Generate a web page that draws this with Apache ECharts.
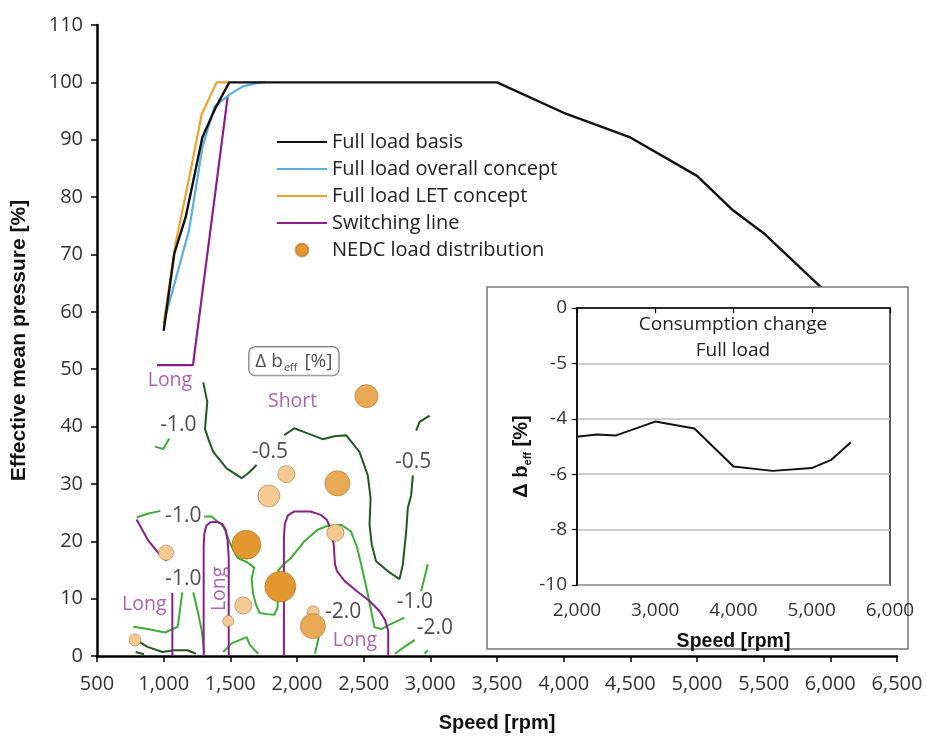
<!DOCTYPE html>
<html>
<head>
<meta charset="utf-8">
<script src="https://cdn.jsdelivr.net/npm/echarts@6/dist/echarts.min.js"></script>
<style>
  html, body { margin: 0; padding: 0; background: #fff; }
  #chart { width: 927px; height: 738px; }
</style>
</head>
<body>
<div id="chart"></div>
<script>
// full load curves [speed rpm, effective mean pressure %]
const fullLoadBasis = [[1000, 56.7], [1080, 70.2], [1165, 76.5], [1290, 90.4], [1390, 95.6], [1492, 100], [3500, 100],
  [4000, 94.7], [4500, 90.4], [5000, 83.7], [5270, 77.7], [5500, 73.7], [5925, 64.4], [6200, 58]]
const fullLoadOverall = [[1000, 58], [1190, 74.2], [1290, 88.6], [1382, 95.8], [1497, 97.9], [1595, 99.3], [1725, 100], [1760, 100]]
const fullLoadLet = [[1000, 58], [1090, 72], [1197, 84], [1285, 94.4], [1397, 100], [1497, 100]]
const switchingLine = [[950, 50.7], [1220, 50.7], [1480, 97.5]]

// NEDC load points: speed, load, time share (bubble area)
const nedcSpeed = [785, 1018, 1484, 1597, 1620, 1875, 1789, 1920, 2303, 2521, 2288, 2121, 2119]
const nedcLoad = [2.8, 18, 6.1, 8.8, 19.4, 12.1, 27.9, 31.7, 30.1, 45.3, 21.5, 7.7, 5.2]
const nedcShare = [1.2, 1.9, 1.0, 2.4, 7.0, 7.9, 4.0, 2.4, 5.2, 4.4, 2.4, 1.2, 5.2]

// consumption change contours (-0.5 dark green)
const dgUpperA = [[1297, 47.7], [1327, 44.3], [1310, 39.6], [1340, 37.5], [1372, 35.6], [1472, 32.7], [1585, 31], [1640, 32], [1697, 33.3]]
const dgUpperB = [[1905, 38.5], [1980, 39.7], [2080, 38.8], [2193, 37.8], [2280, 38.3], [2368, 38.5], [2468, 35.6], [2531, 31.5],
  [2552, 27.5], [2544, 22.9], [2560, 19.5], [2593, 16.5], [2680, 14.8], [2769, 13.4], [2794, 16], [2820, 22], [2831, 25.8],
  [2856, 28], [2869, 31.5]]
const dgUpperC = [[2894, 39.3], [2919, 40.8], [2994, 41.9]]
const dgLower = [[803, 2.7], [878, 1.6], [991, 0.7], [1078, 1], [1178, 1], [1241, 0.4]]
const dgLowerTick = [[790, 0.7], [853, 0.3]]

// -1.0 / -2.0 light green
const lgUpperTick = [[935, 36.5], [997, 36.1], [1042, 37.9]]
const lgMidLeft = [[800, 24.2], [880, 24.8], [975, 25.3]]
const lgMidRight = [[1304, 24.3], [1360, 24.3], [1404, 23.4], [1440, 22.8], [1466, 21.7], [1500, 19.5], [1554, 17.1], [1629, 16.3],
  [1679, 15.4], [1660, 13.5], [1670, 11], [1692, 9], [1720, 7.5], [1779, 7.3], [1830, 7.2], [1855, 8.5], [1859, 14.9], [1900, 16],
  [1955, 17.1], [2055, 20], [2155, 22], [2218, 22.6], [2330, 22.9], [2405, 21.7], [2450, 19], [2481, 16], [2531, 10.8],
  [2581, 5], [2631, 4.7], [2706, 5.6], [2806, 6.7]]
const lgRightTail = [[2931, 11.3], [2981, 16]]
const lgLowLeft = [[772, 5.1], [880, 4.7], [1010, 4.1], [1105, 5.1], [1122, 8], [1140, 11.1]]
const lgLowMid = [[1222, 11.1], [1259, 7.4], [1285, 4.5], [1305, 0.4]]
const lgBottomA = [[1447, 0.7], [1510, 2.2], [1622, 3.3], [1647, 1.9], [1709, 0.4]]
const lgBottomB = [[2134, 0.4], [2164, 3.3]]
const lgBottomC = [[2734, 0.4], [2800, 1.5], [2884, 2.8]]
const lgBottomD = [[2956, 0.4], [2981, 1.0]]

// switching regions (purple)
const purpleLeft = [[797, 23.8], [885, 20.1], [960, 18], [1022, 16.6]]
const purpleBar = [[1065, 11], [1065, 0]]
const purpleArch1 = [[1300, 0], [1300, 19], [1305, 21.3], [1320, 22.7], [1350, 23.3], [1400, 23.4], [1440, 23], [1465, 22],
  [1480, 20], [1488, 17], [1488, 0]]
const purpleArch2 = [[1902, 0], [1902, 20.5], [1908, 23], [1932, 24.5], [1980, 25.2], [2100, 25.2], [2180, 24.6], [2225, 23.7],
  [2255, 22], [2275, 19.5], [2285, 16], [2300, 14.8], [2356, 13.1], [2450, 11.3], [2544, 9.6], [2620, 7.8], [2660, 6.3],
  [2684, 4.4], [2684, 0]]

// contour and region labels
const contourLabelText = ['-1.0', '-0.5', '-0.5', '-1.0', '-1.0', '-2.0', '-1.0', '-2.0']
const contourLabelSpeed = [1110, 1797, 2871, 1147, 1147, 2346, 2884, 3034]
const contourLabelLoad = [40.2, 35.6, 33.9, 24.4, 13.4, 7.7, 9.4, 4.8]
const regionLabelText = ['Long', 'Short', 'Long', 'Long', 'Long']
const regionLabelSpeed = [1047, 1967, 855, 1415, 2434]
const regionLabelLoad = [48, 44.3, 9.0, 11.7, 2.8]

// inset: consumption change at full load
const insetSpeed = [2000, 2250, 2500, 3000, 3500, 4000, 4500, 5000, 5250, 5500]
const insetChange = [-4.65, -4.57, -4.6, -4.1, -4.35, -5.72, -5.88, -5.78, -5.48, -4.85]
const insetTickValues = [0, -2, -4, -6, -8, -10]
const insetTickLabels = ['0', '-5', '-4', '-6', '-8', '-10']

const FONT = 'Open Sans'
const BOLD = 'Liberation Sans'

function thousands (v) {
  return String(v).replace(/\B(?=(\d{3})+(?!\d))/g, ',')
}

function shareColor (s) {
  if (s < 4.2) return '#f5c993'
  if (s < 6) return '#eaa955'
  return '#e3982f'
}

function contour (points, color) {
  return {
    type: 'line',
    data: points,
    symbol: 'none',
    silent: true,
    lineStyle: { color: color, width: 2 },
    z: 3
  }
}

const DARK = '#1f5a1f'
const LIGHT = '#3cae36'
const PURPLE = '#8c1d8c'

let series = []
;[dgUpperA, dgUpperB, dgUpperC, dgLower, dgLowerTick].forEach(function (p) { series.push(contour(p, DARK)) })
;[lgUpperTick, lgMidLeft, lgMidRight, lgRightTail, lgLowLeft, lgLowMid, lgBottomA, lgBottomB, lgBottomC, lgBottomD]
  .forEach(function (p) { series.push(contour(p, LIGHT)) })
;[purpleLeft, purpleBar, purpleArch1, purpleArch2].forEach(function (p) { series.push(contour(p, PURPLE)) })

// full load lines: itemStyle opacity 0 keeps the legend icon a plain line
function fullLoad (name, data, color, width, z) {
  return { name: name, type: 'line', data: data, symbol: 'none', lineStyle: { color: color, width: width }, itemStyle: { color: color, opacity: 0 }, z: z }
}

series.push(
  fullLoad('Switching line', switchingLine, PURPLE, 2.2, 4),
  fullLoad('Full load overall concept', fullLoadOverall, '#5aaee2', 2.2, 4),
  fullLoad('Full load LET concept', fullLoadLet, '#f0a02c', 2.2, 4),
  fullLoad('Full load basis', fullLoadBasis, '#111', 2.4, 5),
  {
    name: 'NEDC load distribution',
    type: 'scatter',
    data: nedcSpeed.map(function (s, i) {
      return {
        value: [s, nedcLoad[i], nedcShare[i]],
        symbolSize: 11 * Math.sqrt(nedcShare[i]),
        itemStyle: { color: shareColor(nedcShare[i]) }
      }
    }),
    itemStyle: { color: '#e8962e', opacity: 1, borderColor: 'rgba(150,100,40,0.5)', borderWidth: 1 },
    z: 6
  },
  {
    type: 'scatter',
    silent: true,
    symbolSize: 1,
    itemStyle: { color: 'transparent' },
    label: { show: true, position: 'inside', fontFamily: FONT, fontSize: 21, color: '#222' },
    data: contourLabelText.map(function (t, i) {
      return { value: [contourLabelSpeed[i], contourLabelLoad[i]], label: { formatter: t } }
    }),
    z: 7
  },
  {
    type: 'scatter',
    silent: true,
    symbolSize: 1,
    itemStyle: { color: 'transparent' },
    label: { show: true, position: 'inside', fontFamily: FONT, fontSize: 19.5, color: '#9a3a9a' },
    data: regionLabelText.map(function (t, i) {
      // the Long label between the two switching legs is written vertically
      return { value: [regionLabelSpeed[i], regionLabelLoad[i]], label: { formatter: t, rotate: i === 3 ? 90 : 0 } }
    }),
    z: 7
  },
  {
    type: 'scatter',
    silent: true,
    symbolSize: 1,
    itemStyle: { color: 'transparent' },
    data: [[1977, 51.4]],
    label: {
      show: true,
      position: 'inside',
      formatter: '{a|Δ b}{s|eff}{a| [%]}',
      backgroundColor: '#fff',
      borderColor: '#666',
      borderWidth: 1.2,
      borderRadius: 6,
      padding: [2, 6, 2, 6],
      rich: {
        a: { fontFamily: FONT, fontSize: 19, color: '#222', lineHeight: 24 },
        s: { fontFamily: FONT, fontSize: 11, color: '#222', lineHeight: 24, verticalAlign: 'bottom', padding: [0, 2, 0, 1] }
      }
    },
    z: 7
  },
  {
    type: 'line',
    xAxisIndex: 1,
    yAxisIndex: 1,
    data: insetSpeed.map(function (s, i) { return [s, insetChange[i]] }),
    symbol: 'none',
    lineStyle: { color: '#111', width: 2 },
    z: 65
  }
)

const option = {
  animation: false,
  textStyle: { fontFamily: FONT },
  legend: {
    left: 271,
    top: 126,
    orient: 'vertical',
    itemWidth: 50,
    itemHeight: 13,
    itemGap: 5,
    selectedMode: false,
    textStyle: { fontFamily: FONT, fontSize: 20, color: '#222', lineHeight: 22 },
    data: ['Full load basis', 'Full load overall concept', 'Full load LET concept', 'Switching line',
      { name: 'NEDC load distribution', icon: 'circle' }]
  },
  grid: [
    { left: 97, width: 800, top: 25, height: 634 },
    { left: 577, top: 308, width: 313, height: 277, show: true, borderColor: '#222', borderWidth: 1.5, z: 60 }
  ],
  xAxis: [
    {
      type: 'value', min: 500, max: 6500, interval: 500,
      name: 'Speed [rpm]', nameLocation: 'middle', nameGap: 57,
      nameTextStyle: { fontFamily: BOLD, fontWeight: 'bold', fontSize: 20, color: '#111' },
      axisLine: { lineStyle: { color: '#000', width: 2.5 } },
      axisTick: { length: 6, lineStyle: { color: '#000', width: 1.5 } },
      axisLabel: { fontSize: 20, color: '#333', margin: 18, formatter: thousands },
      splitLine: { show: false }
    },
    {
      gridIndex: 1, type: 'value', min: 2000, max: 6000, interval: 1000, z: 60,
      name: 'Speed [rpm]', nameLocation: 'middle', nameGap: 47,
      nameTextStyle: { fontFamily: BOLD, fontWeight: 'bold', fontSize: 19.5, color: '#111' },
      axisLine: { lineStyle: { color: '#000', width: 1.5 } },
      axisTick: { length: 5, lineStyle: { color: '#000', width: 1.2 } },
      axisLabel: { fontSize: 19, color: '#333', margin: 16, formatter: thousands },
      splitLine: { show: false }
    }
  ],
  yAxis: [
    {
      type: 'value', min: 0, max: 110, interval: 10,
      name: 'Effective mean pressure [%]', nameLocation: 'middle', nameGap: 67,
      nameTextStyle: { fontFamily: BOLD, fontWeight: 'bold', fontSize: 21, color: '#111' },
      axisLine: { show: true, lineStyle: { color: '#000', width: 2.5 } },
      axisTick: { show: true, length: 6, lineStyle: { color: '#000', width: 1.5 } },
      axisLabel: { fontSize: 20, color: '#333', margin: 14 },
      splitLine: { show: false }
    },
    {
      gridIndex: 1, type: 'value', min: -10, max: 0, interval: 2, z: 60,
      name: '{a|Δ b}{s|eff}{a| [%]}', nameLocation: 'middle', nameGap: 44,
      nameTextStyle: {
        padding: [0, 20, 0, 0],
        rich: {
          a: { fontFamily: BOLD, fontWeight: 'bold', fontSize: 20, color: '#111', lineHeight: 24 },
          s: { fontFamily: BOLD, fontWeight: 'bold', fontSize: 11, color: '#111', lineHeight: 24, verticalAlign: 'bottom' }
        }
      },
      axisLine: { show: true, lineStyle: { color: '#000', width: 1.5 } },
      axisTick: { show: true, length: 5, lineStyle: { color: '#000', width: 1.2 } },
      axisLabel: {
        fontSize: 19, color: '#333', margin: 10,
        formatter: function (v) {
          const k = insetTickValues.indexOf(v)
          return k >= 0 ? insetTickLabels[k] : ''
        }
      },
      splitLine: { show: true, lineStyle: { color: '#bbb', width: 1.5 } }
    }
  ],
  graphic: {
    elements: [
      {
        type: 'rect', z: 50, silent: true,
        shape: { x: 487, y: 287, width: 421, height: 362 },
        style: { fill: '#fff', stroke: '#777', lineWidth: 1.5 }
      },
      {
        type: 'text', z: 70, silent: true, x: 733, y: 312,
        style: { text: 'Consumption change\nFull load', fontFamily: FONT, fontSize: 19, fill: '#222', align: 'center', lineHeight: 26 }
      }
    ]
  },
  series: series
}

const myChart = echarts.init(document.getElementById('chart'))
myChart.setOption(option)
</script>
</body>
</html>
